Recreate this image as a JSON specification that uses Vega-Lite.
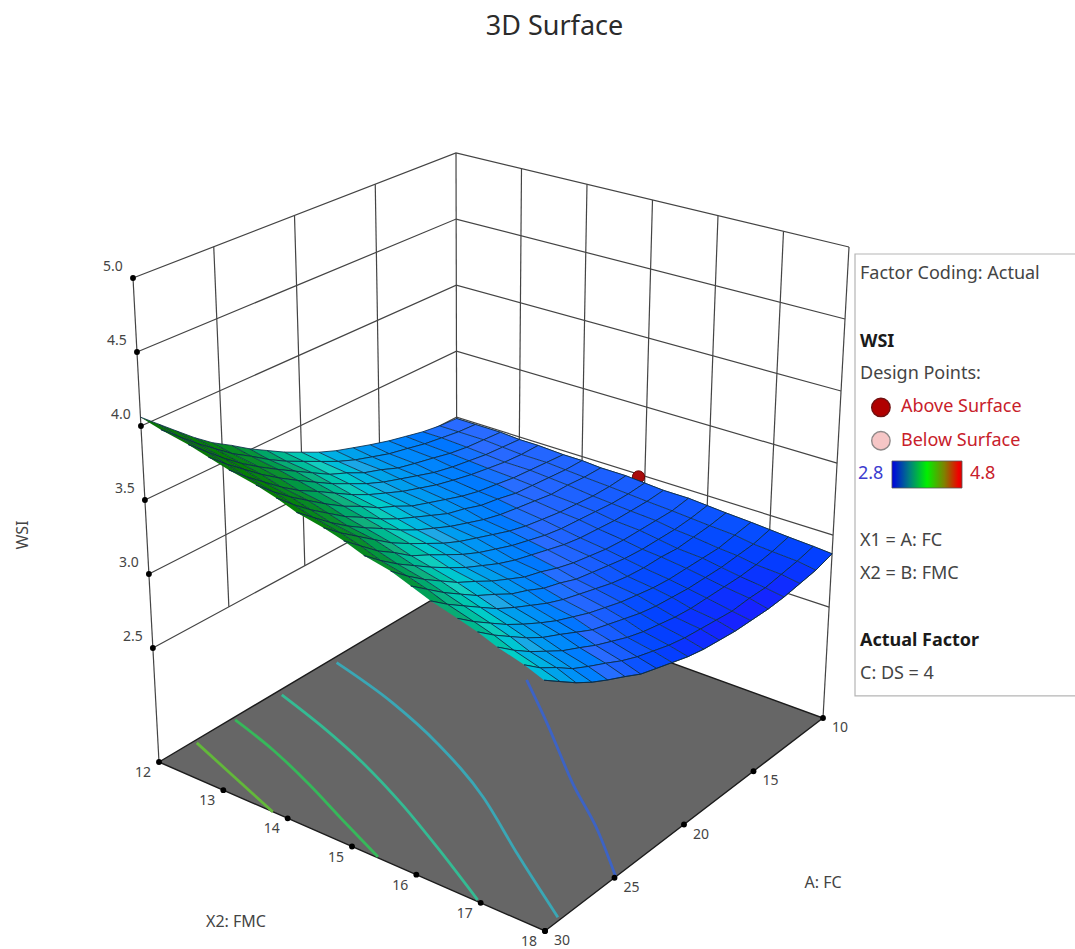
{"$schema":"https://vega.github.io/schema/vega-lite/v6.json","width":1075,"height":949,"padding":0,"autosize":{"type":"none"},"background":"white","config":{"view":{"stroke":null}},
"title":{"text":"3D Surface","anchor":"middle","frame":"group","offset":0,"dx":17,"dy":41,"fontSize":27,"font":"Noto Sans","fontWeight":"normal","color":"#2b2b2b"},
"data":{"values":[
{"g":"f","id":"h25","a":30,"b":12,"w":2.5},{"g":"f","id":"h25","a":10,"b":12,"w":2.5},{"g":"f","id":"h25","a":10,"b":18,"w":2.5},
{"g":"f","id":"h30","a":30,"b":12,"w":3},{"g":"f","id":"h30","a":10,"b":12,"w":3},{"g":"f","id":"h30","a":10,"b":18,"w":3},
{"g":"f","id":"h35","a":30,"b":12,"w":3.5},{"g":"f","id":"h35","a":10,"b":12,"w":3.5},{"g":"f","id":"h35","a":10,"b":18,"w":3.5},
{"g":"f","id":"h40","a":30,"b":12,"w":4},{"g":"f","id":"h40","a":10,"b":12,"w":4},{"g":"f","id":"h40","a":10,"b":18,"w":4},
{"g":"f","id":"h45","a":30,"b":12,"w":4.5},{"g":"f","id":"h45","a":10,"b":12,"w":4.5},{"g":"f","id":"h45","a":10,"b":18,"w":4.5},
{"g":"f","id":"h50","a":30,"b":12,"w":5},{"g":"f","id":"h50","a":10,"b":12,"w":5},{"g":"f","id":"h50","a":10,"b":18,"w":5},
{"g":"f","id":"v30","a":30,"b":12,"w":1.73},{"g":"f","id":"v30","a":30,"b":12,"w":5},
{"g":"f","id":"v25","a":25,"b":12,"w":2.5},{"g":"f","id":"v25","a":25,"b":12,"w":5},
{"g":"f","id":"v20","a":20,"b":12,"w":2.5},{"g":"f","id":"v20","a":20,"b":12,"w":5},
{"g":"f","id":"v15","a":15,"b":12,"w":2.5},{"g":"f","id":"v15","a":15,"b":12,"w":5},
{"g":"f","id":"v10","a":10,"b":12,"w":2.5},{"g":"f","id":"v10","a":10,"b":12,"w":5},
{"g":"f","id":"b13","a":10,"b":13,"w":2.5},{"g":"f","id":"b13","a":10,"b":13,"w":5},
{"g":"f","id":"b14","a":10,"b":14,"w":2.5},{"g":"f","id":"b14","a":10,"b":14,"w":5},
{"g":"f","id":"b15","a":10,"b":15,"w":2.5},{"g":"f","id":"b15","a":10,"b":15,"w":5},
{"g":"f","id":"b16","a":10,"b":16,"w":2.5},{"g":"f","id":"b16","a":10,"b":16,"w":5},
{"g":"f","id":"b17","a":10,"b":17,"w":2.5},{"g":"f","id":"b17","a":10,"b":17,"w":5},
{"g":"f","id":"b18","a":10,"b":18,"w":1.73},{"g":"f","id":"b18","a":10,"b":18,"w":5},
{"g":"floor","o":0,"a":30,"b":12,"w":1.73},{"g":"floor","o":1,"a":30,"b":18,"w":1.73},{"g":"floor","o":2,"a":10,"b":18,"w":1.73},{"g":"floor","o":3,"a":10,"b":12,"w":1.73},{"g":"floor","o":4,"a":30,"b":12,"w":1.73},
{"g":"c","lev":"3.0","a":14.7,"b":14.26,"w":1.73},{"g":"c","lev":"3.0","a":17.02,"b":15.13,"w":1.73},{"g":"c","lev":"3.0","a":20.24,"b":16.28,"w":1.73},{"g":"c","lev":"3.0","a":22.56,"b":17.2,"w":1.73},{"g":"c","lev":"3.0","a":24.88,"b":17.99,"w":1.73},
{"g":"c","lev":"3.2","a":18.5,"b":12.1,"w":1.73},{"g":"c","lev":"3.2","a":19.7,"b":13.28,"w":1.73},{"g":"c","lev":"3.2","a":21.16,"b":14.33,"w":1.73},{"g":"c","lev":"3.2","a":23.42,"b":15.58,"w":1.73},{"g":"c","lev":"3.2","a":26.04,"b":16.7,"w":1.73},{"g":"c","lev":"3.2","a":28.84,"b":17.95,"w":1.73},
{"g":"c","lev":"3.4","a":22.14,"b":12.09,"w":1.73},{"g":"c","lev":"3.4","a":23.16,"b":12.98,"w":1.73},{"g":"c","lev":"3.4","a":24.42,"b":13.91,"w":1.73},{"g":"c","lev":"3.4","a":26.04,"b":14.9,"w":1.73},{"g":"c","lev":"3.4","a":27.76,"b":15.83,"w":1.73},{"g":"c","lev":"3.4","a":29.9,"b":16.93,"w":1.73},
{"g":"c","lev":"3.6","a":25.1,"b":12.05,"w":1.73},{"g":"c","lev":"3.6","a":26.02,"b":12.86,"w":1.73},{"g":"c","lev":"3.6","a":27.28,"b":13.73,"w":1.73},{"g":"c","lev":"3.6","a":28.52,"b":14.49,"w":1.73},{"g":"c","lev":"3.6","a":29.94,"b":15.39,"w":1.73},
{"g":"c","lev":"3.8","a":27.68,"b":12.05,"w":1.73},{"g":"c","lev":"3.8","a":28.77,"b":12.85,"w":1.73},{"g":"c","lev":"3.8","a":30,"b":13.77,"w":1.73},
{"g":"dp","a":10,"b":14.9,"w":2.98},
{"g":"tw","t":"2.5","a":30,"b":12,"w":2.5},{"g":"tw","t":"3.0","a":30,"b":12,"w":3},{"g":"tw","t":"3.5","a":30,"b":12,"w":3.5},{"g":"tw","t":"4.0","a":30,"b":12,"w":4},{"g":"tw","t":"4.5","a":30,"b":12,"w":4.5},{"g":"tw","t":"5.0","a":30,"b":12,"w":5},
{"g":"tb","t":"12","a":30,"b":12,"w":1.73},{"g":"tb","t":"13","a":30,"b":13,"w":1.73},{"g":"tb","t":"14","a":30,"b":14,"w":1.73},{"g":"tb","t":"15","a":30,"b":15,"w":1.73},{"g":"tb","t":"16","a":30,"b":16,"w":1.73},{"g":"tb","t":"17","a":30,"b":17,"w":1.73},{"g":"tb","t":"18","a":30,"b":18,"w":1.73},
{"g":"ta","t":"30","a":30,"b":18,"w":1.73},{"g":"ta","t":"25","a":25,"b":18,"w":1.73},{"g":"ta","t":"20","a":20,"b":18,"w":1.73},{"g":"ta","t":"15","a":15,"b":18,"w":1.73},{"g":"ta","t":"10","a":10,"b":18,"w":1.73},
{"g":"tw1","t":"WSI","a":30,"b":12,"w":3.5},{"g":"tb1","t":"X2: FMC","a":30,"b":15,"w":1.73},{"g":"ta1","t":"A: FC","a":20,"b":18,"w":1.73},
{"g":"box","line":-0.6,"col":-0.122,"line2":12.65,"col2":5.5},{"g":"bar","line":5.607,"col":0.78,"line2":6.417,"col2":2.488},
{"g":"leg","t":"Factor Coding: Actual","line":0,"col":0,"role":"plain"},
{"g":"leg","t":"Design Points:","line":3,"col":0,"role":"plain"},
{"g":"leg","t":"Above Surface","line":4,"col":1,"role":"red"},
{"g":"leg","t":"Below Surface","line":5,"col":1,"role":"red"},
{"g":"leg","t":"2.8","line":6,"col":-0.05,"role":"blue"},
{"g":"leg","t":"4.8","line":6,"col":2.68,"role":"red"},
{"g":"leg","t":"X1 = A: FC","line":8,"col":0,"role":"plain"},
{"g":"leg","t":"X2 = B: FMC","line":9,"col":0,"role":"plain"},
{"g":"leg","t":"C: DS = 4","line":12,"col":0,"role":"plain"},
{"g":"legh","t":"WSI","line":2.05,"col":0},
{"g":"legh","t":"Actual Factor","line":11,"col":0},
{"g":"above","line":4,"col":0.51},
{"g":"below","line":5,"col":0.51},
{"a":10,"b":12,"w":2.99},{"a":10,"b":12.3,"w":2.99},{"a":10,"b":12.7,"w":2.99},{"a":10,"b":13,"w":2.98},{"a":10,"b":13.3,"w":2.98},{"a":10,"b":13.7,"w":2.97},{"a":10,"b":14,"w":2.97},{"a":10,"b":14.3,"w":2.96},{"a":10,"b":14.7,"w":2.96},{"a":10,"b":15,"w":2.95},{"a":10,"b":15.3,"w":2.94},{"a":10,"b":15.7,"w":2.94},{"a":10,"b":16,"w":2.93},{"a":10,"b":16.3,"w":2.92},{"a":10,"b":16.7,"w":2.91},{"a":10,"b":17,"w":2.9},{"a":10,"b":17.3,"w":2.89},{"a":10,"b":17.7,"w":2.88},{"a":10,"b":18,"w":2.87},
{"a":11.1,"b":12,"w":3},{"a":11.1,"b":12.3,"w":3},{"a":11.1,"b":12.7,"w":3},{"a":11.1,"b":13,"w":2.99},{"a":11.1,"b":13.3,"w":2.98},{"a":11.1,"b":13.7,"w":2.98},{"a":11.1,"b":14,"w":2.97},{"a":11.1,"b":14.3,"w":2.96},{"a":11.1,"b":14.7,"w":2.95},{"a":11.1,"b":15,"w":2.94},{"a":11.1,"b":15.3,"w":2.93},{"a":11.1,"b":15.7,"w":2.92},{"a":11.1,"b":16,"w":2.91},{"a":11.1,"b":16.3,"w":2.9},{"a":11.1,"b":16.7,"w":2.89},{"a":11.1,"b":17,"w":2.87},{"a":11.1,"b":17.3,"w":2.86},{"a":11.1,"b":17.7,"w":2.85},{"a":11.1,"b":18,"w":2.83},
{"a":12.2,"b":12,"w":3.02},{"a":12.2,"b":12.3,"w":3.02},{"a":12.2,"b":12.7,"w":3.01},{"a":12.2,"b":13,"w":3},{"a":12.2,"b":13.3,"w":2.99},{"a":12.2,"b":13.7,"w":2.99},{"a":12.2,"b":14,"w":2.98},{"a":12.2,"b":14.3,"w":2.97},{"a":12.2,"b":14.7,"w":2.95},{"a":12.2,"b":15,"w":2.94},{"a":12.2,"b":15.3,"w":2.93},{"a":12.2,"b":15.7,"w":2.92},{"a":12.2,"b":16,"w":2.9},{"a":12.2,"b":16.3,"w":2.89},{"a":12.2,"b":16.7,"w":2.87},{"a":12.2,"b":17,"w":2.86},{"a":12.2,"b":17.3,"w":2.84},{"a":12.2,"b":17.7,"w":2.83},{"a":12.2,"b":18,"w":2.81},
{"a":13.3,"b":12,"w":3.05},{"a":13.3,"b":12.3,"w":3.04},{"a":13.3,"b":12.7,"w":3.03},{"a":13.3,"b":13,"w":3.02},{"a":13.3,"b":13.3,"w":3.01},{"a":13.3,"b":13.7,"w":3},{"a":13.3,"b":14,"w":2.99},{"a":13.3,"b":14.3,"w":2.97},{"a":13.3,"b":14.7,"w":2.96},{"a":13.3,"b":15,"w":2.95},{"a":13.3,"b":15.3,"w":2.93},{"a":13.3,"b":15.7,"w":2.92},{"a":13.3,"b":16,"w":2.9},{"a":13.3,"b":16.3,"w":2.88},{"a":13.3,"b":16.7,"w":2.87},{"a":13.3,"b":17,"w":2.85},{"a":13.3,"b":17.3,"w":2.83},{"a":13.3,"b":17.7,"w":2.81},{"a":13.3,"b":18,"w":2.79},
{"a":14.4,"b":12,"w":3.08},{"a":14.4,"b":12.3,"w":3.07},{"a":14.4,"b":12.7,"w":3.06},{"a":14.4,"b":13,"w":3.04},{"a":14.4,"b":13.3,"w":3.03},{"a":14.4,"b":13.7,"w":3.02},{"a":14.4,"b":14,"w":3},{"a":14.4,"b":14.3,"w":2.99},{"a":14.4,"b":14.7,"w":2.97},{"a":14.4,"b":15,"w":2.96},{"a":14.4,"b":15.3,"w":2.94},{"a":14.4,"b":15.7,"w":2.92},{"a":14.4,"b":16,"w":2.9},{"a":14.4,"b":16.3,"w":2.89},{"a":14.4,"b":16.7,"w":2.87},{"a":14.4,"b":17,"w":2.85},{"a":14.4,"b":17.3,"w":2.83},{"a":14.4,"b":17.7,"w":2.81},{"a":14.4,"b":18,"w":2.78},
{"a":15.6,"b":12,"w":3.12},{"a":15.6,"b":12.3,"w":3.1},{"a":15.6,"b":12.7,"w":3.09},{"a":15.6,"b":13,"w":3.07},{"a":15.6,"b":13.3,"w":3.06},{"a":15.6,"b":13.7,"w":3.04},{"a":15.6,"b":14,"w":3.03},{"a":15.6,"b":14.3,"w":3.01},{"a":15.6,"b":14.7,"w":2.99},{"a":15.6,"b":15,"w":2.97},{"a":15.6,"b":15.3,"w":2.95},{"a":15.6,"b":15.7,"w":2.93},{"a":15.6,"b":16,"w":2.91},{"a":15.6,"b":16.3,"w":2.89},{"a":15.6,"b":16.7,"w":2.87},{"a":15.6,"b":17,"w":2.85},{"a":15.6,"b":17.3,"w":2.83},{"a":15.6,"b":17.7,"w":2.8},{"a":15.6,"b":18,"w":2.78},
{"a":16.7,"b":12,"w":3.16},{"a":16.7,"b":12.3,"w":3.14},{"a":16.7,"b":12.7,"w":3.12},{"a":16.7,"b":13,"w":3.11},{"a":16.7,"b":13.3,"w":3.09},{"a":16.7,"b":13.7,"w":3.07},{"a":16.7,"b":14,"w":3.05},{"a":16.7,"b":14.3,"w":3.03},{"a":16.7,"b":14.7,"w":3.01},{"a":16.7,"b":15,"w":2.99},{"a":16.7,"b":15.3,"w":2.97},{"a":16.7,"b":15.7,"w":2.95},{"a":16.7,"b":16,"w":2.93},{"a":16.7,"b":16.3,"w":2.9},{"a":16.7,"b":16.7,"w":2.88},{"a":16.7,"b":17,"w":2.86},{"a":16.7,"b":17.3,"w":2.83},{"a":16.7,"b":17.7,"w":2.81},{"a":16.7,"b":18,"w":2.78},
{"a":17.8,"b":12,"w":3.2},{"a":17.8,"b":12.3,"w":3.18},{"a":17.8,"b":12.7,"w":3.17},{"a":17.8,"b":13,"w":3.15},{"a":17.8,"b":13.3,"w":3.13},{"a":17.8,"b":13.7,"w":3.11},{"a":17.8,"b":14,"w":3.09},{"a":17.8,"b":14.3,"w":3.06},{"a":17.8,"b":14.7,"w":3.04},{"a":17.8,"b":15,"w":3.02},{"a":17.8,"b":15.3,"w":3},{"a":17.8,"b":15.7,"w":2.97},{"a":17.8,"b":16,"w":2.95},{"a":17.8,"b":16.3,"w":2.92},{"a":17.8,"b":16.7,"w":2.9},{"a":17.8,"b":17,"w":2.87},{"a":17.8,"b":17.3,"w":2.84},{"a":17.8,"b":17.7,"w":2.82},{"a":17.8,"b":18,"w":2.79},
{"a":18.9,"b":12,"w":3.25},{"a":18.9,"b":12.3,"w":3.23},{"a":18.9,"b":12.7,"w":3.21},{"a":18.9,"b":13,"w":3.19},{"a":18.9,"b":13.3,"w":3.17},{"a":18.9,"b":13.7,"w":3.15},{"a":18.9,"b":14,"w":3.12},{"a":18.9,"b":14.3,"w":3.1},{"a":18.9,"b":14.7,"w":3.08},{"a":18.9,"b":15,"w":3.05},{"a":18.9,"b":15.3,"w":3.03},{"a":18.9,"b":15.7,"w":3},{"a":18.9,"b":16,"w":2.97},{"a":18.9,"b":16.3,"w":2.95},{"a":18.9,"b":16.7,"w":2.92},{"a":18.9,"b":17,"w":2.89},{"a":18.9,"b":17.3,"w":2.86},{"a":18.9,"b":17.7,"w":2.83},{"a":18.9,"b":18,"w":2.8},
{"a":20,"b":12,"w":3.31},{"a":20,"b":12.3,"w":3.29},{"a":20,"b":12.7,"w":3.27},{"a":20,"b":13,"w":3.24},{"a":20,"b":13.3,"w":3.22},{"a":20,"b":13.7,"w":3.19},{"a":20,"b":14,"w":3.17},{"a":20,"b":14.3,"w":3.14},{"a":20,"b":14.7,"w":3.12},{"a":20,"b":15,"w":3.09},{"a":20,"b":15.3,"w":3.06},{"a":20,"b":15.7,"w":3.04},{"a":20,"b":16,"w":3.01},{"a":20,"b":16.3,"w":2.98},{"a":20,"b":16.7,"w":2.95},{"a":20,"b":17,"w":2.92},{"a":20,"b":17.3,"w":2.88},{"a":20,"b":17.7,"w":2.85},{"a":20,"b":18,"w":2.82},
{"a":21.1,"b":12,"w":3.37},{"a":21.1,"b":12.3,"w":3.35},{"a":21.1,"b":12.7,"w":3.32},{"a":21.1,"b":13,"w":3.3},{"a":21.1,"b":13.3,"w":3.27},{"a":21.1,"b":13.7,"w":3.25},{"a":21.1,"b":14,"w":3.22},{"a":21.1,"b":14.3,"w":3.19},{"a":21.1,"b":14.7,"w":3.16},{"a":21.1,"b":15,"w":3.13},{"a":21.1,"b":15.3,"w":3.1},{"a":21.1,"b":15.7,"w":3.07},{"a":21.1,"b":16,"w":3.04},{"a":21.1,"b":16.3,"w":3.01},{"a":21.1,"b":16.7,"w":2.98},{"a":21.1,"b":17,"w":2.95},{"a":21.1,"b":17.3,"w":2.91},{"a":21.1,"b":17.7,"w":2.88},{"a":21.1,"b":18,"w":2.85},
{"a":22.2,"b":12,"w":3.44},{"a":22.2,"b":12.3,"w":3.41},{"a":22.2,"b":12.7,"w":3.39},{"a":22.2,"b":13,"w":3.36},{"a":22.2,"b":13.3,"w":3.33},{"a":22.2,"b":13.7,"w":3.3},{"a":22.2,"b":14,"w":3.27},{"a":22.2,"b":14.3,"w":3.24},{"a":22.2,"b":14.7,"w":3.21},{"a":22.2,"b":15,"w":3.18},{"a":22.2,"b":15.3,"w":3.15},{"a":22.2,"b":15.7,"w":3.12},{"a":22.2,"b":16,"w":3.09},{"a":22.2,"b":16.3,"w":3.05},{"a":22.2,"b":16.7,"w":3.02},{"a":22.2,"b":17,"w":2.98},{"a":22.2,"b":17.3,"w":2.95},{"a":22.2,"b":17.7,"w":2.91},{"a":22.2,"b":18,"w":2.88},
{"a":23.3,"b":12,"w":3.51},{"a":23.3,"b":12.3,"w":3.48},{"a":23.3,"b":12.7,"w":3.46},{"a":23.3,"b":13,"w":3.43},{"a":23.3,"b":13.3,"w":3.4},{"a":23.3,"b":13.7,"w":3.37},{"a":23.3,"b":14,"w":3.33},{"a":23.3,"b":14.3,"w":3.3},{"a":23.3,"b":14.7,"w":3.27},{"a":23.3,"b":15,"w":3.24},{"a":23.3,"b":15.3,"w":3.2},{"a":23.3,"b":15.7,"w":3.17},{"a":23.3,"b":16,"w":3.13},{"a":23.3,"b":16.3,"w":3.1},{"a":23.3,"b":16.7,"w":3.06},{"a":23.3,"b":17,"w":3.03},{"a":23.3,"b":17.3,"w":2.99},{"a":23.3,"b":17.7,"w":2.95},{"a":23.3,"b":18,"w":2.91},
{"a":24.4,"b":12,"w":3.59},{"a":24.4,"b":12.3,"w":3.56},{"a":24.4,"b":12.7,"w":3.53},{"a":24.4,"b":13,"w":3.5},{"a":24.4,"b":13.3,"w":3.47},{"a":24.4,"b":13.7,"w":3.43},{"a":24.4,"b":14,"w":3.4},{"a":24.4,"b":14.3,"w":3.37},{"a":24.4,"b":14.7,"w":3.33},{"a":24.4,"b":15,"w":3.3},{"a":24.4,"b":15.3,"w":3.26},{"a":24.4,"b":15.7,"w":3.23},{"a":24.4,"b":16,"w":3.19},{"a":24.4,"b":16.3,"w":3.15},{"a":24.4,"b":16.7,"w":3.11},{"a":24.4,"b":17,"w":3.08},{"a":24.4,"b":17.3,"w":3.04},{"a":24.4,"b":17.7,"w":3},{"a":24.4,"b":18,"w":2.96},
{"a":25.6,"b":12,"w":3.67},{"a":25.6,"b":12.3,"w":3.64},{"a":25.6,"b":12.7,"w":3.61},{"a":25.6,"b":13,"w":3.58},{"a":25.6,"b":13.3,"w":3.54},{"a":25.6,"b":13.7,"w":3.51},{"a":25.6,"b":14,"w":3.47},{"a":25.6,"b":14.3,"w":3.44},{"a":25.6,"b":14.7,"w":3.4},{"a":25.6,"b":15,"w":3.36},{"a":25.6,"b":15.3,"w":3.33},{"a":25.6,"b":15.7,"w":3.29},{"a":25.6,"b":16,"w":3.25},{"a":25.6,"b":16.3,"w":3.21},{"a":25.6,"b":16.7,"w":3.17},{"a":25.6,"b":17,"w":3.13},{"a":25.6,"b":17.3,"w":3.09},{"a":25.6,"b":17.7,"w":3.05},{"a":25.6,"b":18,"w":3.01},
{"a":26.7,"b":12,"w":3.76},{"a":26.7,"b":12.3,"w":3.73},{"a":26.7,"b":12.7,"w":3.69},{"a":26.7,"b":13,"w":3.66},{"a":26.7,"b":13.3,"w":3.62},{"a":26.7,"b":13.7,"w":3.59},{"a":26.7,"b":14,"w":3.55},{"a":26.7,"b":14.3,"w":3.51},{"a":26.7,"b":14.7,"w":3.48},{"a":26.7,"b":15,"w":3.44},{"a":26.7,"b":15.3,"w":3.4},{"a":26.7,"b":15.7,"w":3.36},{"a":26.7,"b":16,"w":3.32},{"a":26.7,"b":16.3,"w":3.28},{"a":26.7,"b":16.7,"w":3.23},{"a":26.7,"b":17,"w":3.19},{"a":26.7,"b":17.3,"w":3.15},{"a":26.7,"b":17.7,"w":3.1},{"a":26.7,"b":18,"w":3.06},
{"a":27.8,"b":12,"w":3.86},{"a":27.8,"b":12.3,"w":3.82},{"a":27.8,"b":12.7,"w":3.78},{"a":27.8,"b":13,"w":3.75},{"a":27.8,"b":13.3,"w":3.71},{"a":27.8,"b":13.7,"w":3.67},{"a":27.8,"b":14,"w":3.63},{"a":27.8,"b":14.3,"w":3.59},{"a":27.8,"b":14.7,"w":3.56},{"a":27.8,"b":15,"w":3.51},{"a":27.8,"b":15.3,"w":3.47},{"a":27.8,"b":15.7,"w":3.43},{"a":27.8,"b":16,"w":3.39},{"a":27.8,"b":16.3,"w":3.35},{"a":27.8,"b":16.7,"w":3.3},{"a":27.8,"b":17,"w":3.26},{"a":27.8,"b":17.3,"w":3.21},{"a":27.8,"b":17.7,"w":3.17},{"a":27.8,"b":18,"w":3.12},
{"a":28.9,"b":12,"w":3.96},{"a":28.9,"b":12.3,"w":3.92},{"a":28.9,"b":12.7,"w":3.88},{"a":28.9,"b":13,"w":3.84},{"a":28.9,"b":13.3,"w":3.8},{"a":28.9,"b":13.7,"w":3.76},{"a":28.9,"b":14,"w":3.72},{"a":28.9,"b":14.3,"w":3.68},{"a":28.9,"b":14.7,"w":3.64},{"a":28.9,"b":15,"w":3.6},{"a":28.9,"b":15.3,"w":3.55},{"a":28.9,"b":15.7,"w":3.51},{"a":28.9,"b":16,"w":3.47},{"a":28.9,"b":16.3,"w":3.42},{"a":28.9,"b":16.7,"w":3.37},{"a":28.9,"b":17,"w":3.33},{"a":28.9,"b":17.3,"w":3.28},{"a":28.9,"b":17.7,"w":3.23},{"a":28.9,"b":18,"w":3.19},
{"a":30,"b":12,"w":4.06},{"a":30,"b":12.3,"w":4.02},{"a":30,"b":12.7,"w":3.98},{"a":30,"b":13,"w":3.94},{"a":30,"b":13.3,"w":3.9},{"a":30,"b":13.7,"w":3.86},{"a":30,"b":14,"w":3.82},{"a":30,"b":14.3,"w":3.77},{"a":30,"b":14.7,"w":3.73},{"a":30,"b":15,"w":3.69},{"a":30,"b":15.3,"w":3.64},{"a":30,"b":15.7,"w":3.6},{"a":30,"b":16,"w":3.55},{"a":30,"b":16.3,"w":3.5},{"a":30,"b":16.7,"w":3.45},{"a":30,"b":17,"w":3.41},{"a":30,"b":17.3,"w":3.36},{"a":30,"b":17.7,"w":3.31},{"a":30,"b":18,"w":3.26}
]},
"transform":[
{"calculate":"(datum.b-12)/6","as":"u"},{"calculate":"(30-datum.a)/20","as":"s"},{"calculate":"(datum.w-1.73)/3.27","as":"h"},
{"calculate":"(1-datum.u)*(1-datum.s)*159+datum.u*(1-datum.s)*545+datum.u*datum.s*823+(1-datum.u)*datum.s*457","as":"fx"},
{"calculate":"(1-datum.u)*(1-datum.s)*762+datum.u*(1-datum.s)*931+datum.u*datum.s*718+(1-datum.u)*datum.s*585","as":"fy"},
{"calculate":"(1-datum.u)*(1-datum.s)*133+datum.u*(1-datum.s)*543+datum.u*datum.s*849+(1-datum.u)*datum.s*456","as":"tx"},
{"calculate":"(1-datum.u)*(1-datum.s)*278+datum.u*(1-datum.s)*395+datum.u*datum.s*247+(1-datum.u)*datum.s*153","as":"ty"},
{"calculate":"isValid(datum.line)?860+41*datum.col:datum.fx*(1-datum.h)+datum.tx*datum.h","as":"sx"},
{"calculate":"isValid(datum.line)?274+33.35*datum.line:datum.fy*(1-datum.h)+datum.ty*datum.h","as":"sy"},
{"calculate":"860+41*datum.col2","as":"sx2"},{"calculate":"274+33.35*datum.line2","as":"sy2"}
],
"encoding":{"x":{"field":"sx","type":"quantitative","scale":{"domain":[0,1075]},"axis":null},"y":{"field":"sy","type":"quantitative","scale":{"domain":[0,949],"reverse":true},"axis":null}},
"layer":[
{"transform":[{"filter":"datum.g=='box'"}],"mark":{"type":"rect","fill":"white","stroke":"#b5b5b5","strokeWidth":1.2},"encoding":{"x2":{"field":"sx2"},"y2":{"field":"sy2"}}},
{"transform":[{"filter":"datum.g=='f'"}],"mark":{"type":"line","stroke":"#444444","strokeWidth":1.2},"encoding":{"detail":{"field":"id"}}},
{"transform":[{"filter":"datum.g=='floor'"}],"mark":{"type":"line","fill":"#666666","stroke":"#1c1c1c","strokeWidth":1.4},"encoding":{"order":{"field":"o"}}},
{"transform":[{"filter":"datum.g=='c'"}],"mark":{"type":"line","strokeWidth":2.8,"interpolate":"monotone"},"encoding":{"stroke":{"field":"lev","type":"nominal","scale":{"domain":["3.0","3.2","3.4","3.6","3.8"],"range":["#3d63c4","#3aa7b5","#34bb93","#36b85a","#62b83a"]},"legend":null}}},
{"transform":[{"filter":"datum.g=='dp'"}],"mark":{"type":"point","filled":true,"size":150,"fill":"#a80a0a","stroke":"#6d0505","strokeWidth":1,"opacity":1}},
{"transform":[{"filter":"!datum.g"},{"calculate":"round((30-datum.a)*0.9)","as":"i"},{"calculate":"round((datum.b-12)*3)","as":"j"},{"calculate":"[0,1,2,3]","as":"k"},{"flatten":["k"]},{"calculate":"datum.i-((datum.k==1||datum.k==2)?1:0)","as":"ci"},{"calculate":"datum.j-(datum.k>=2?1:0)","as":"cj"},{"filter":"datum.ci>=0&&datum.cj>=0"},{"calculate":"datum.ci*100+datum.cj","as":"cell"},{"joinaggregate":[{"op":"mean","field":"w","as":"wc"}],"groupby":["cell"]}],
"mark":{"type":"line","stroke":"#0b2d48","strokeWidth":1,"strokeOpacity":0.85},
"encoding":{"detail":{"field":"cell"},"order":{"field":"k"},"fill":{"field":"wc","type":"quantitative","legend":null,"scale":{"domain":[2.78,3.0,3.2,3.3,3.42,3.55,3.72,4.06],"range":["#1a1aff","#2b6cff","#1fa8e6","#18d0c4","#10b07c","#0a9030","#058005","#0a6e0a"]}}}},
{"transform":[{"filter":"datum.g=='tw'||datum.g=='tb'||datum.g=='ta'"}],"mark":{"type":"point","filled":true,"size":34,"fill":"#000000","opacity":1}},
{"transform":[{"filter":"datum.g=='tw'"}],"mark":{"type":"text","dx":-20,"dy":-11,"font":"Noto Sans","fontSize":14,"fill":"#444444"},"encoding":{"text":{"field":"t"}}},
{"transform":[{"filter":"datum.g=='tb'"}],"mark":{"type":"text","dx":-16,"dy":11,"font":"Noto Sans","fontSize":14,"fill":"#444444"},"encoding":{"text":{"field":"t"}}},
{"transform":[{"filter":"datum.g=='ta'"}],"mark":{"type":"text","dx":17,"dy":10,"font":"Noto Sans","fontSize":14,"fill":"#444444"},"encoding":{"text":{"field":"t"}}},
{"transform":[{"filter":"datum.g=='tw1'"}],"mark":{"type":"text","dx":-35,"dy":-122,"angle":270,"font":"Noto Sans","fontSize":16,"fill":"#444444"},"encoding":{"text":{"field":"t"}}},
{"transform":[{"filter":"datum.g=='tb1'"}],"mark":{"type":"text","dx":-116,"dy":75,"font":"Noto Sans","fontSize":16,"fill":"#444444"},"encoding":{"text":{"field":"t"}}},
{"transform":[{"filter":"datum.g=='ta1'"}],"mark":{"type":"text","dx":139,"dy":58,"font":"Noto Sans","fontSize":16,"fill":"#444444"},"encoding":{"text":{"field":"t"}}},
{"transform":[{"filter":"datum.g=='bar'"}],"mark":{"type":"rect","stroke":"#555555","strokeWidth":0.8,"fill":{"gradient":"linear","x1":0,"y1":0,"x2":1,"y2":0,"stops":[{"offset":0,"color":"#0000e0"},{"offset":0.25,"color":"#007f80"},{"offset":0.5,"color":"#00f000"},{"offset":0.75,"color":"#808000"},{"offset":0.95,"color":"#f00000"},{"offset":1,"color":"#e00000"}]}},"encoding":{"x2":{"field":"sx2"},"y2":{"field":"sy2"}}},
{"transform":[{"filter":"datum.g=='above'"}],"mark":{"type":"point","filled":true,"size":340,"fill":"#b00000","stroke":"#701010","strokeWidth":1.4,"opacity":1}},
{"transform":[{"filter":"datum.g=='below'"}],"mark":{"type":"point","filled":true,"size":340,"fill":"#f6c6c6","stroke":"#8e8888","strokeWidth":1.4,"opacity":1}},
{"transform":[{"filter":"datum.g=='leg'"}],"mark":{"type":"text","align":"left","baseline":"middle","font":"Noto Sans","fontSize":18},"encoding":{"text":{"field":"t"},"color":{"field":"role","type":"nominal","legend":null,"scale":{"domain":["plain","red","blue"],"range":["#444444","#c8202a","#3c3ccf"]}}}},
{"transform":[{"filter":"datum.g=='legh'"}],"mark":{"type":"text","align":"left","baseline":"middle","font":"Noto Sans","fontSize":18,"fontWeight":"bold","fill":"#1a1a1a"},"encoding":{"text":{"field":"t"}}}
]}
